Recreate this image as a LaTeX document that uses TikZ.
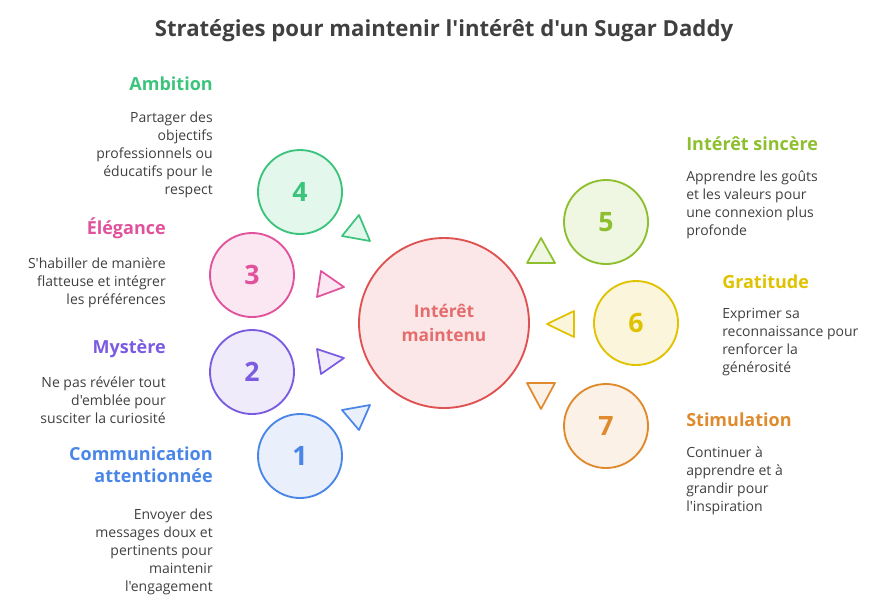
\documentclass[tikz,border=0pt]{standalone}
\usepackage{fontspec}
\setmainfont{Open Sans}[Ligatures=TeXOff]
\begin{document}
\begin{tikzpicture}[x=0.75pt,y=-0.75pt,
  circ/.style={draw=#1, line width=1.4pt, circle, minimum size=84*0.75pt, inner sep=0pt, font=\bfseries\fontsize{20}{20}\selectfont, text=#1},
  tri/.style={line width=1.3pt, line join=round},
  ttl/.style={font=\bfseries\fontsize{13.5}{16}\selectfont, inner sep=0pt},
  desc/.style={font=\fontsize{10.5}{13.5}\selectfont, text=black!75, inner sep=0pt}]
\useasboundingbox (0,0) rectangle (888,612);
\definecolor{cG}{HTML}{3CC47C}\definecolor{cP}{HTML}{E0529B}\definecolor{cV}{HTML}{7B5CE0}
\definecolor{cB}{HTML}{4A86E8}\definecolor{cO}{HTML}{8DBF2E}\definecolor{cY}{HTML}{E0C200}
\definecolor{cR}{HTML}{E05252}\definecolor{cN}{HTML}{E08A2E}
\node[font=\bfseries\fontsize{16.6}{20}\selectfont, text=black!75] (title) at (444,31) {Stratégies pour maintenir l'intérêt d'un Sugar Daddy};
\node[draw=cR, fill=cR!14, line width=1.4pt, circle, minimum size=170*0.75pt, text=cR!85!white, font=\bfseries\fontsize{13}{18}\selectfont, align=center] (c) at (444,323) {Intérêt\\maintenu};
\node[circ=cG, fill=cG!14] (n4) at (300,192) {4};
\node[circ=cP, fill=cP!14] (n3) at (252,275) {3};
\node[circ=cV, fill=cV!12] (n2) at (252,372) {2};
\node[circ=cB, fill=cB!12] (n1) at (300,456) {1};
\node[circ=cO, fill=cO!14] (n5) at (606,222) {5};
\node[circ=cY, fill=cY!14] (n6) at (636,323) {6};
\node[circ=cN, fill=cN!12] (n7) at (606,426) {7};
\draw[tri, draw=cG, fill=cG!14] (359,215)--(342,236)--(370,241)--cycle;
\draw[tri, draw=cP, fill=cP!14] (321,271)--(317,297)--(344,287)--cycle;
\draw[tri, draw=cV, fill=cV!12] (317,349)--(321,374)--(344,358)--cycle;
\draw[tri, draw=cB, fill=cB!12] (342,410)--(370,405)--(359,430)--cycle;
\draw[tri, draw=cO, fill=cO!14] (541,238)--(527,263)--(555,263)--cycle;
\draw[tri, draw=cY, fill=cY!14] (547,324)--(574,311)--(574,337)--cycle;
\draw[tri, draw=cN, fill=cN!12] (527,383)--(555,383)--(541,409)--cycle;
\node[ttl, text=cG, anchor=east] (t4) at (213,84) {Ambition};
\node[desc, anchor=north east, align=right] (d4) at (213,112) {Partager des\\objectifs\\professionnels ou\\éducatifs pour le\\respect};
\node[ttl, text=cP, anchor=east] (t3) at (166,228) {Élégance};
\node[desc, anchor=north east, align=right] (d3) at (166,257) {S'habiller de manière\\flatteuse et intégrer\\les préférences};
\node[ttl, text=cV, anchor=east] (t2) at (166,349) {Mystère};
\node[desc, anchor=north east, align=right] (d2) at (166,376) {Ne pas révéler tout\\d'emblée pour\\susciter la curiosité};
\node[ttl, text=cB, anchor=north east, align=right] (t1) at (213,447) {Communication\\attentionnée};
\node[desc, anchor=north east, align=right] (d1) at (213,509) {Envoyer des\\messages doux et\\pertinents pour\\maintenir\\l'engagement};
\node[ttl, text=cO, anchor=west] (t5) at (686,144) {Intérêt sincère};
\node[desc, anchor=north west, align=left] (d5) at (686,170) {Apprendre les goûts\\et les valeurs pour\\une connexion plus\\profonde};
\node[ttl, text=cY, anchor=west] (t6) at (722,282) {Gratitude};
\node[desc, anchor=north west, align=left] (d6) at (722,308) {Exprimer sa\\reconnaissance pour\\renforcer la\\générosité};
\node[ttl, text=cN, anchor=west] (t7) at (686,420) {Stimulation};
\node[desc, anchor=north west, align=left] (d7) at (686,446) {Continuer à\\apprendre et à\\grandir pour\\l'inspiration};
\end{tikzpicture}
\end{document}
